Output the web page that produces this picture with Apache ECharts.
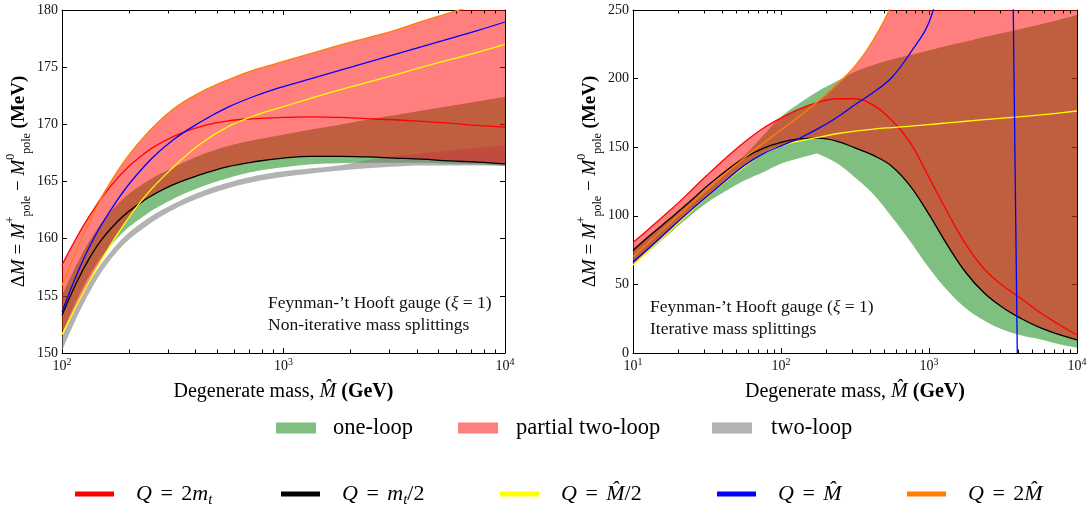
<!DOCTYPE html>
<html>
<head>
<meta charset="utf-8">
<title>Mass splitting vs degenerate mass</title>
<script src="https://cdn.jsdelivr.net/npm/echarts@6/dist/echarts.min.js"></script>
<style>
html,body{margin:0;padding:0;background:#fff;}
#chart{width:1089px;height:512px;}
</style>
</head>
<body>
<div id="chart"></div>
<script>
// ================= DATA =================
// Left panel: non-iterative mass splittings; x = degenerate mass (GeV), y = Delta M (MeV)
const xLeft = [100,133,178,237,316,422,562,750,1000,1334,1778,2371,3162,4217,5623,7499,10000];
const leftQ2mt = [157.7,162.0,165.3,167.5,168.9,169.8,170.3,170.5,170.6,170.65,170.6,170.5,170.4,170.25,170.1,169.9,169.75];
const leftQmt2 = [153.3,158.3,161.5,163.4,164.7,165.6,166.3,166.75,167.05,167.2,167.2,167.15,167.05,166.95,166.8,166.7,166.55];
const leftQM2  = [151.6,156.3,160.4,163.7,166.2,168.3,169.8,170.8,171.55,172.3,173.0,173.65,174.3,175.0,175.65,176.3,177.0];
const leftQM   = [153.6,159.3,163.4,166.4,168.6,170.2,171.5,172.5,173.3,174.0,174.7,175.4,176.1,176.8,177.5,178.2,178.95];
const leftQ2M  = [155.9,161.5,165.9,169.0,171.3,172.8,173.9,174.8,175.5,176.2,176.9,177.55,178.2,179.0,179.75,180.45,181.1];
const leftOneLoopLo = [151.7,156.75,160.05,162.05,163.45,164.5,165.3,165.9,166.25,166.5,166.6,166.65,166.65,166.65,166.55,166.5,166.4];
const leftOneLoopHi = [155.0,159.8,163.0,164.9,166.2,167.3,168.1,168.65,169.1,169.55,169.95,170.4,170.8,171.2,171.6,172.0,172.4];
const leftTwoLoopLo = [150.2,155.3,158.9,161.0,162.5,163.6,164.4,165.0,165.4,165.7,165.95,166.15,166.3,166.4,166.4,166.4,166.35];
const leftTwoLoopHi = [151.4,156.2,159.55,161.6,163.0,164.1,164.9,165.5,165.9,166.15,166.4,166.85,167.2,167.45,167.7,167.95,168.2];

// Right panel: iterative mass splittings
const xRight = [10,13.3,17.8,23.7,31.6,42.2,56.2,75,100,133,178,237,316,422,562,750,1000,1334,1778,2371,3162,4217,5623,7499,10000];
const rightQ2mt = [80.5,92.0,104.0,116.5,129.5,142.0,153.5,163.5,171.3,177.8,182.7,185.3,185.3,180.5,169.5,153.0,128.0,102.5,79.0,61.0,49.0,39.5,29.5,21.0,13.1];
const rightQmt2 = [74.7,86.5,98.0,109.5,121.5,132.5,142.0,149.0,153.5,156.0,156.6,154.5,149.5,144.0,136.0,121.5,101.0,78.5,58.5,43.5,33.0,25.0,18.5,13.5,9.5];
const rightQM2  = [64.2,76.5,89.0,101.5,113.5,125.0,135.5,145.0,151.0,154.5,157.2,159.8,161.7,163.2,164.3,165.3,166.5,167.7,168.9,170.1,171.2,172.3,173.5,174.9,176.4];
const xRightQM = [10,13.3,17.8,23.7,31.6,42.2,56.2,75,100,133,178,237,316,422,562,750,1000,1334];
const rightQM  = [66.4,78.0,90.5,102.5,114.0,125.5,136.5,145.0,151.0,156.5,163.5,171.5,181.0,190.0,201.0,219.0,241.0,290.0];
const xRightQMPole = [3700,3960];
const rightQMPole  = [260,-10];
const xRightQ2M = [10,13.3,17.8,23.7,31.6,42.2,56.2,75,100,133,178,237,316,422,562,750];
const rightQ2M  = [70.2,82.5,94.8,107.0,119.0,130.8,142.0,152.5,162.5,172.5,183.5,195.5,209.0,228.5,255.0,300.0];
const xRightOneLoop = [10,13.3,17.8,23.7,31.6,42.2,56.2,75,100,133,175,237,316,422,562,750,1000,1334,1778,2371,3162,4217,5623,7499,10000];
const rightOneLoopLo = [64.0,75.5,87.5,99.0,109.5,118.0,125.5,131.5,138.0,142.0,145.5,138.5,128.0,115.5,99.0,81.0,62.0,45.5,32.5,23.5,17.0,12.8,10.0,6.5,3.8];
const rightOneLoopHi = [76.0,87.0,98.0,109.0,120.0,131.5,143.5,158.0,172.0,182.0,190.3,198.0,205.0,210.0,214.0,217.3,220.5,224.0,227.0,230.3,233.3,236.3,239.5,242.8,246.4];
const rightOneLoopKinks = [175];   // top-mass threshold kink in the lower edge

// Axis ranges and tick values
const leftXRange = [100, 10000], leftYRange = [150, 180], leftYStep = 5;
const rightXRange = [10, 10000], rightYRange = [0, 250], rightYStep = 50;
const leftMinorTicks = [200,300,400,500,600,700,800,900,2000,3000,4000,5000,6000,7000,8000,9000];
const rightMinorTicks = [20,30,40,50,60,70,80,90,200,300,400,500,600,700,800,900,2000,3000,4000,5000,6000,7000,8000,9000];

// Labels
const bandNames = ['one-loop', 'partial two-loop', 'two-loop'];
const lineNames = ['Q = 2m_t', 'Q = m_t/2', 'Q = M/2', 'Q = M', 'Q = 2M'];
const lineLabels = {
  'Q = 2m_t': '{i|Q}{e| = }{t|2}{i|m}{sb|t}',
  'Q = m_t/2': '{i|Q}{e| = }{i|m}{sb|t}{t|/2}',
  'Q = M/2': '{i|Q}{e| = }{i|M\u0302}{t|/2}',
  'Q = M': '{i|Q}{e| = }{i|M\u0302}',
  'Q = 2M': '{i|Q}{e| = }{t|2}{i|M\u0302}'
};
const annotLeft = 'Feynman-\u2019t Hooft gauge ({i|\u03be} = 1)\nNon-iterative mass splittings';
const annotRight = 'Feynman-\u2019t Hooft gauge ({i|\u03be} = 1)\nIterative mass splittings';

// ================= STYLE =================
const FONT = '"Liberation Serif", "Times New Roman", serif';
const C_GREEN = 'rgba(0,128,0,0.5)';
const C_RED = 'rgba(255,0,0,0.5)';
const C_GRAY = 'rgba(128,128,128,0.6)';
const LINE_COLORS = ['#ff0000', '#000000', '#ffff00', '#0000ff', '#ff7f00'];
const SMOOTH = 0.4;
const LW = 1.3;

// ECharts-like smoothing, sampled into points (pixel space)
function smoothPts(P, s) {
  const out = [P[0].slice()];
  let c0 = P[0].slice();
  for (let i = 1; i < P.length; i++) {
    const x = P[i][0], y = P[i][1], px = P[i-1][0], py = P[i-1][1];
    let c1x = x, c1y = y, ncx = x, ncy = y;
    if (i < P.length - 1) {
      const nx = P[i+1][0], ny = P[i+1][1];
      let vx = nx - px, vy = ny - py;
      const l0 = Math.hypot(x - px, y - py) || 1e-6, l1 = Math.hypot(nx - x, ny - y) || 1e-6;
      const r = l1 / (l0 + l1);
      ncx = x + vx * s * r; ncy = y + vy * s * r;
      ncx = Math.min(ncx, Math.max(nx, x)); ncy = Math.min(ncy, Math.max(ny, y));
      ncx = Math.max(ncx, Math.min(nx, x)); ncy = Math.max(ncy, Math.min(ny, y));
      vx = ncx - x; vy = ncy - y;
      c1x = x - vx * l0 / l1; c1y = y - vy * l0 / l1;
      c1x = Math.min(c1x, Math.max(px, x)); c1y = Math.min(c1y, Math.max(py, y));
      c1x = Math.max(c1x, Math.min(px, x)); c1y = Math.max(c1y, Math.min(py, y));
      vx = x - c1x; vy = y - c1y;
      ncx = x + vx * l1 / l0; ncy = y + vy * l1 / l0;
    }
    const N = 14;
    for (let k = 1; k <= N; k++) {
      const t = k / N, u = 1 - t;
      out.push([
        u*u*u*px + 3*u*u*t*c0[0] + 3*u*t*t*c1x + t*t*t*x,
        u*u*u*py + 3*u*u*t*c0[1] + 3*u*t*t*c1y + t*t*t*y
      ]);
    }
    c0 = [ncx, ncy];
  }
  return out;
}
function smoothPiecewise(P, s, breakIdx) {
  if (!breakIdx || !breakIdx.length) return smoothPts(P, s);
  let out = [], start = 0;
  breakIdx.concat([P.length - 1]).forEach(b => {
    const sp = smoothPts(P.slice(start, b + 1), s);
    out = out.length ? out.concat(sp.slice(1)) : sp;
    start = b;
  });
  return out;
}

function bandSeries(name, xs, lo, hi, color, axisIdx, kinks) {
  const breakIdx = (kinks || []).map(k => xs.indexOf(k)).filter(i => i > 0);
  return {
    type: 'custom', name: name, xAxisIndex: axisIdx, yAxisIndex: axisIdx,
    silent: true, clip: true, animation: false,
    itemStyle: { color: color },
    data: xs.map((x, i) => [x, lo[i], hi[i]]),
    encode: { x: 0, y: [1, 2] },
    renderItem: function (params, api) {
      if (params.dataIndex !== 0) return null;
      const cs = params.coordSys;
      const up = [], dn = [];
      for (let i = 0; i < xs.length; i++) {
        up.push(api.coord([xs[i], hi[i]]));
        dn.push(api.coord([xs[i], lo[i]]));
      }
      const yT = cs.y, yB = cs.y + cs.height;
      const pts = smoothPiecewise(up, SMOOTH, []).concat(smoothPiecewise(dn, SMOOTH, breakIdx).reverse())
        .map(p => [p[0], Math.min(yB, Math.max(yT, p[1]))]);
      return { type: 'polygon', shape: { points: pts }, style: { fill: color } };
    }
  };
}

function lineSeries(name, xs, ys, color, axisIdx, smooth) {
  return {
    type: 'line', name: name, xAxisIndex: axisIdx, yAxisIndex: axisIdx,
    data: xs.map((x, i) => [x, ys[i]]),
    showSymbol: false, symbol: 'none', smooth: smooth, clip: true, silent: true, animation: false,
    itemStyle: { color: color },
    lineStyle: { color: color, width: LW }
  };
}

function minorTickSeries(ticks, yVal, axisIdx) {
  return {
    type: 'custom', xAxisIndex: axisIdx, yAxisIndex: axisIdx, silent: true, animation: false,
    data: ticks.map(t => [t, yVal]),
    encode: { x: 0, y: 1 },
    renderItem: function (params, api) {
      const cs = params.coordSys;
      const x = Math.round(api.coord([api.value(0), api.value(1)])[0]) + 0.5;
      const yb = cs.y + cs.height, yt = cs.y;
      return { type: 'group', children: [
        { type: 'line', shape: { x1: x, y1: yb, x2: x, y2: yb - 3.5 }, style: { stroke: '#000', lineWidth: 1 } },
        { type: 'line', shape: { x1: x, y1: yt, x2: x, y2: yt + 3.5 }, style: { stroke: '#000', lineWidth: 1 } }
      ] };
    }
  };
}

// Red (partial two-loop) envelopes built from the scale curves
const leftPartialLo = xLeft.map((x, i) => Math.min(leftQmt2[i], leftQM2[i]));
const leftPartialHi = xLeft.map((x, i) => Math.max(leftQ2mt[i], leftQ2M[i]));
const rightPartialLo = xRight.map((x, i) => Math.min(rightQmt2[i], rightQM2[i]));
const rightPartialHi = xRight.map((x, i) => {
  const oi = xRightQ2M.indexOf(x);
  const o = oi >= 0 ? rightQ2M[oi] : rightYRange[1] + 50;
  return Math.max(rightQ2mt[i], o);
});

// ================= AXES =================
const tickLabelStyle = { fontFamily: FONT, fontSize: 14, color: '#111' };
function xAxes(range, gridIndex) {
  const common = {
    type: 'log', logBase: 10, min: range[0], max: range[1], gridIndex: gridIndex,
    splitLine: { show: false },
    axisLine: { show: true, onZero: false, lineStyle: { color: '#000', width: 1 } },
    axisTick: { show: true, inside: true, length: 5, lineStyle: { color: '#000', width: 1 } },
    minorTick: { show: false }
  };
  return [
    Object.assign({}, common, {
      position: 'bottom',
      axisLabel: {
        margin: 4, fontFamily: FONT, fontSize: 14, color: '#111', lineHeight: 18,
        formatter: v => '10{s|' + Math.round(Math.log10(v)) + '}',
        rich: { s: { fontFamily: FONT, fontSize: 10, lineHeight: 10, verticalAlign: 'top', color: '#111' } }
      },
      name: 'Degenerate mass, {i|M\u0302} {b|(GeV)}',
      nameLocation: 'middle', nameGap: 17,
      nameTextStyle: {
        fontFamily: FONT, fontSize: 20, color: '#000', lineHeight: 24,
        rich: {
          i: { fontFamily: FONT, fontSize: 20, fontStyle: 'italic', lineHeight: 24 },
          b: { fontFamily: FONT, fontSize: 20, fontWeight: 'bold', lineHeight: 24 }
        }
      }
    }),
    Object.assign({}, common, { position: 'top', axisLabel: { show: false } })
  ];
}
function yAxes(range, step, gridIndex) {
  const common = {
    type: 'value', min: range[0], max: range[1], interval: step, gridIndex: gridIndex,
    splitLine: { show: false },
    axisLine: { show: true, onZero: false, lineStyle: { color: '#000', width: 1 } },
    axisTick: { show: true, inside: true, length: 5, lineStyle: { color: '#000', width: 1 } }
  };
  return [
    Object.assign({}, common, {
      position: 'left',
      axisLabel: Object.assign({ margin: 4 }, tickLabelStyle),
      name: '{t|\u0394}{i|M}{t| = }{i|M}{sp|+}{sb|pole}{t| \u2212 }{i|M}{sp|0}{sb|pole}{t| }{b|(MeV)}',
      nameLocation: 'middle', nameRotate: 90, nameGap: 27,
      nameTextStyle: {
        fontFamily: FONT, fontSize: 19, color: '#000', lineHeight: 28,
        rich: {
          t: { fontFamily: FONT, fontSize: 19, lineHeight: 28 },
          i: { fontFamily: FONT, fontSize: 19, fontStyle: 'italic', lineHeight: 28 },
          sp: { fontFamily: FONT, fontSize: 12, lineHeight: 12, verticalAlign: 'top' },
          sb: { fontFamily: FONT, fontSize: 12, lineHeight: 12, verticalAlign: 'bottom' },
          b: { fontFamily: FONT, fontSize: 19, fontWeight: 'bold', lineHeight: 28 }
        }
      }
    }),
    Object.assign({}, common, { position: 'right', axisLabel: { show: false } })
  ];
}

const xAxisList = [].concat(xAxes(leftXRange, 0), xAxes(rightXRange, 1));
const yAxisList = [].concat(yAxes(leftYRange, leftYStep, 0), yAxes(rightYRange, rightYStep, 1));
// axis indices: grid0 -> x0,x1 / y0,y1 ; grid1 -> x2,x3 / y2,y3
const L = 0, R = 2;

// ================= SERIES =================
const series = [
  bandSeries(bandNames[0], xLeft, leftOneLoopLo, leftOneLoopHi, C_GREEN, L),
  bandSeries(bandNames[2], xLeft, leftTwoLoopLo, leftTwoLoopHi, C_GRAY, L),
  bandSeries(bandNames[1], xLeft, leftPartialLo, leftPartialHi, C_RED, L),
  bandSeries(bandNames[0], xRightOneLoop, rightOneLoopLo, rightOneLoopHi, C_GREEN, R, rightOneLoopKinks),
  bandSeries(bandNames[1], xRight, rightPartialLo, rightPartialHi, C_RED, R),

  lineSeries(lineNames[0], xLeft, leftQ2mt, LINE_COLORS[0], L, SMOOTH),
  lineSeries(lineNames[1], xLeft, leftQmt2, LINE_COLORS[1], L, SMOOTH),
  lineSeries(lineNames[2], xLeft, leftQM2, LINE_COLORS[2], L, SMOOTH),
  lineSeries(lineNames[3], xLeft, leftQM, LINE_COLORS[3], L, SMOOTH),
  lineSeries(lineNames[4], xLeft, leftQ2M, LINE_COLORS[4], L, SMOOTH),

  lineSeries(lineNames[0], xRight, rightQ2mt, LINE_COLORS[0], R, SMOOTH),
  lineSeries(lineNames[1], xRight, rightQmt2, LINE_COLORS[1], R, SMOOTH),
  lineSeries(lineNames[2], xRight, rightQM2, LINE_COLORS[2], R, SMOOTH),
  lineSeries(lineNames[3], xRightQM, rightQM, LINE_COLORS[3], R, SMOOTH),
  lineSeries(lineNames[3], xRightQMPole, rightQMPole, LINE_COLORS[3], R, false),
  lineSeries(lineNames[4], xRightQ2M, rightQ2M, LINE_COLORS[4], R, SMOOTH),

  minorTickSeries(leftMinorTicks, leftYRange[0], L),
  minorTickSeries(rightMinorTicks, rightYRange[0], R)
];

// ================= LEGENDS =================
const bandColors = [C_GREEN, C_RED, C_GRAY];
const bandLegendPos = [276, 458, 712];
const bandLegendGap = [12, 13, 14];
const lineLegendPos = [75, 281, 500, 717, 907];

const legends = [];
bandNames.forEach((n, k) => {
  legends.push({
    data: [{ name: n, icon: 'rect', itemStyle: { color: bandColors[k], borderWidth: 0 } }],
    left: bandLegendPos[k], top: 416, padding: 0, selectedMode: false,
    itemWidth: 40, itemHeight: 11,
    formatter: name => '{g| }' + name,
    textStyle: {
      fontFamily: FONT, fontSize: 22.5, color: '#000', lineHeight: 24,
      rich: { g: { width: bandLegendGap[k], fontSize: 10 } }
    }
  });
});
lineNames.forEach((n, k) => {
  legends.push({
    data: [{ name: n, icon: 'rect', itemStyle: { color: LINE_COLORS[k], borderWidth: 0 } }],
    left: lineLegendPos[k], top: 480, padding: 0, selectedMode: false,
    itemWidth: 39, itemHeight: 5,
    formatter: name => '{g| }' + lineLabels[name],
    textStyle: {
      fontFamily: FONT, fontSize: 22, color: '#000', lineHeight: 28,
      rich: {
        g: { width: 17, fontSize: 10 },
        t: { fontFamily: FONT, fontSize: 22, lineHeight: 28 },
        e: { fontFamily: FONT, fontSize: 22, lineHeight: 28, padding: [0, 3, 0, 3] },
        i: { fontFamily: FONT, fontSize: 22, fontStyle: 'italic', lineHeight: 28 },
        sb: { fontFamily: FONT, fontSize: 15, fontStyle: 'italic', lineHeight: 15, verticalAlign: 'bottom' }
      }
    }
  });
});

// ================= CHART =================
const chart = echarts.init(document.getElementById('chart'), null, { renderer: 'canvas' });
chart.setOption({
  backgroundColor: '#ffffff',
  animation: false,
  grid: [
    { left: 62, top: 10, width: 443, height: 343, containLabel: false, outerBoundsMode: 'none' },
    { left: 633, top: 10, width: 444, height: 343, containLabel: false, outerBoundsMode: 'none' }
  ],
  xAxis: xAxisList,
  yAxis: yAxisList,
  legend: legends,
  series: series,
  graphic: [
    { type: 'text', left: 268, top: 292, silent: true,
      style: { text: annotLeft, fontFamily: FONT, fontSize: 17.5, lineHeight: 22, fill: '#111',
        rich: { i: { fontFamily: FONT, fontSize: 17.5, fontStyle: 'italic', lineHeight: 22 } } } },
    { type: 'text', left: 650, top: 296, silent: true,
      style: { text: annotRight, fontFamily: FONT, fontSize: 17.5, lineHeight: 22, fill: '#111',
        rich: { i: { fontFamily: FONT, fontSize: 17.5, fontStyle: 'italic', lineHeight: 22 } } } }
  ]
});
</script>
</body>
</html>
